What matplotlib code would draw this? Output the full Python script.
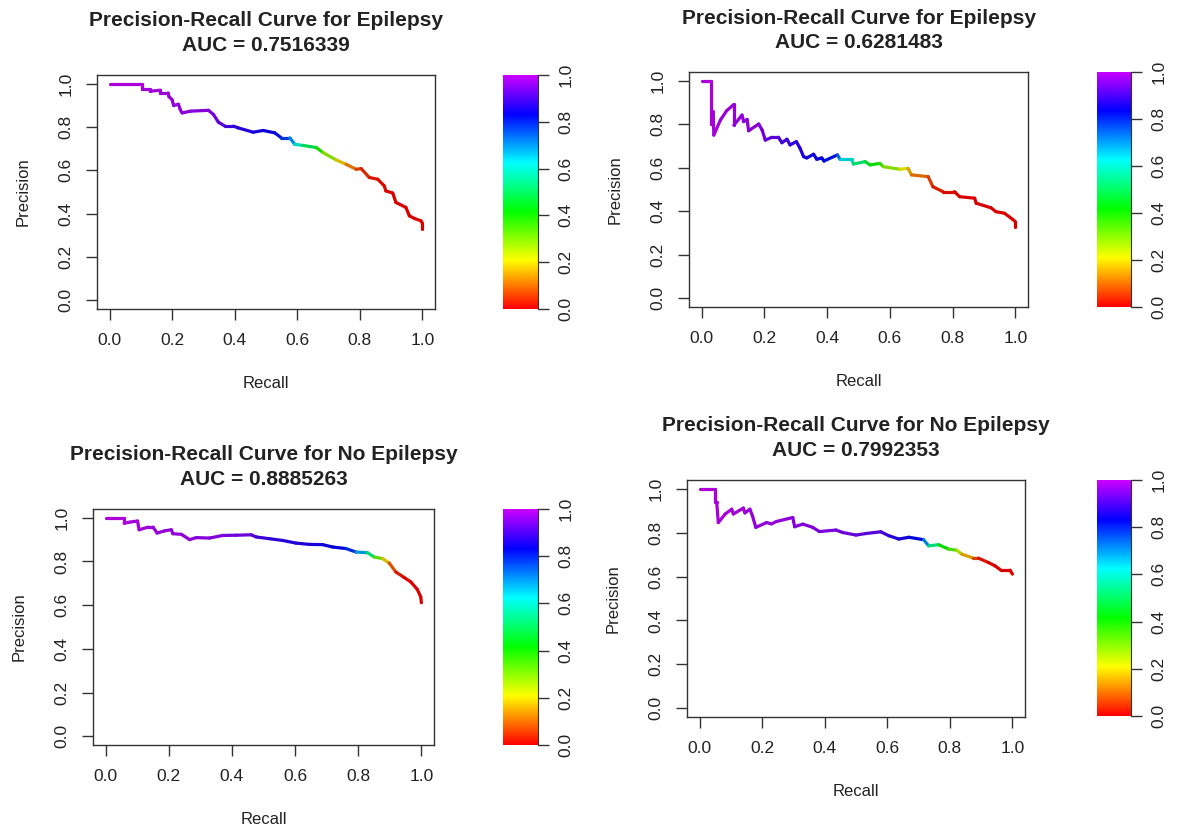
import numpy as np
import matplotlib
matplotlib.use('Agg')
import matplotlib.pyplot as plt
from matplotlib.collections import LineCollection
from matplotlib.colors import ListedColormap, hsv_to_rgb

plt.rcParams['font.family'] = ['Liberation Sans', 'DejaVu Sans']

# --- Epilepsy, model A ---
tl_recall = [0.0, 0.104, 0.104, 0.13, 0.13, 0.162, 0.162, 0.187, 0.19, 0.2,
             0.205, 0.22, 0.226, 0.232, 0.258, 0.316, 0.332, 0.348, 0.369, 0.396,
             0.411, 0.459, 0.491, 0.528, 0.549, 0.576, 0.592, 0.618, 0.661, 0.682,
             0.724, 0.756, 0.788, 0.804, 0.830, 0.857, 0.878, 0.883, 0.905, 0.915,
             0.947, 0.958, 0.974, 0.995, 1.0, 1.0]
tl_precision = [1.0, 1.0, 0.977, 0.977, 0.965, 0.97, 0.957, 0.957, 0.94, 0.926,
                0.899, 0.905, 0.88, 0.865, 0.873, 0.877, 0.858, 0.822, 0.804, 0.804,
                0.796, 0.776, 0.784, 0.773, 0.750, 0.75, 0.720, 0.715, 0.705, 0.682,
                0.648, 0.628, 0.605, 0.608, 0.567, 0.559, 0.528, 0.505, 0.495, 0.452,
                0.429, 0.390, 0.378, 0.367, 0.355, 0.329]
tl_threshold = [1.0, 1.0, 0.99, 0.99, 0.99, 0.98, 0.98, 0.98, 0.98, 0.97,
                0.97, 0.97, 0.97, 0.97, 0.96, 0.96, 0.95, 0.93, 0.9, 0.88,
                0.87, 0.86, 0.85, 0.84, 0.8, 0.76, 0.64, 0.56, 0.42, 0.36,
                0.22, 0.14, 0.08, 0.05, 0.03, 0.02, 0.01, 0.01, 0.0, 0.0,
                0.0, 0.0, 0.0, 0.0, 0.0, 0.0]

# --- Epilepsy, model B ---
tr_recall = [0.0, 0.031, 0.031, 0.035, 0.037, 0.039, 0.060, 0.080, 0.103, 0.103,
             0.129, 0.134, 0.145, 0.150, 0.182, 0.193, 0.203, 0.224, 0.245, 0.256,
             0.272, 0.282, 0.302, 0.314, 0.325, 0.335, 0.357, 0.367, 0.383, 0.390,
             0.433, 0.441, 0.478, 0.484, 0.521, 0.537, 0.568, 0.579, 0.632, 0.658,
             0.669, 0.722, 0.737, 0.769, 0.806, 0.822, 0.870, 0.875, 0.922, 0.938,
             0.965, 0.991, 1.0, 1.0]
tr_precision = [1.0, 1.0, 0.80, 0.80, 0.858, 0.750, 0.819, 0.862, 0.891, 0.796,
                0.842, 0.812, 0.822, 0.770, 0.801, 0.773, 0.727, 0.740, 0.74, 0.715,
                0.731, 0.705, 0.720, 0.689, 0.651, 0.645, 0.662, 0.639, 0.645, 0.631,
                0.659, 0.639, 0.639, 0.617, 0.628, 0.613, 0.62, 0.605, 0.593, 0.597,
                0.567, 0.559, 0.513, 0.490, 0.49, 0.467, 0.46, 0.437, 0.416, 0.398,
                0.391, 0.363, 0.352, 0.329]
tr_threshold = [1.0, 1.0, 1.0, 1.0, 0.99, 0.99, 0.98, 0.98, 0.98, 0.97,
                0.97, 0.97, 0.97, 0.96, 0.96, 0.95, 0.93, 0.92, 0.91, 0.9,
                0.89, 0.88, 0.87, 0.86, 0.86, 0.85, 0.85, 0.84, 0.84, 0.83,
                0.8, 0.68, 0.6, 0.56, 0.48, 0.44, 0.38, 0.34, 0.24, 0.18,
                0.13, 0.08, 0.04, 0.02, 0.01, 0.0, 0.0, 0.0, 0.0, 0.0,
                0.0, 0.0, 0.0, 0.0]

# --- No Epilepsy, model A ---
bl_recall = [0.0, 0.059, 0.059, 0.077, 0.101, 0.106, 0.135, 0.150, 0.163, 0.187,
             0.208, 0.213, 0.240, 0.266, 0.287, 0.329, 0.371, 0.414, 0.461, 0.477,
             0.519, 0.561, 0.603, 0.645, 0.687, 0.719, 0.761, 0.793, 0.829, 0.851,
             0.877, 0.898, 0.919, 0.945, 0.966, 0.987, 0.998, 1.0]
bl_precision = [1.0, 1.0, 0.975, 0.98, 0.985, 0.945, 0.957, 0.957, 0.930, 0.94,
                0.945, 0.927, 0.924, 0.900, 0.909, 0.907, 0.919, 0.92, 0.922, 0.912,
                0.904, 0.896, 0.884, 0.878, 0.877, 0.866, 0.859, 0.843, 0.840, 0.820,
                0.813, 0.793, 0.752, 0.727, 0.707, 0.672, 0.638, 0.611]
bl_threshold = [1.0, 1.0, 1.0, 0.99, 0.99, 0.99, 0.98, 0.98, 0.98, 0.98,
                0.97, 0.97, 0.97, 0.97, 0.96, 0.96, 0.95, 0.94, 0.93, 0.9,
                0.88, 0.87, 0.86, 0.86, 0.85, 0.84, 0.82, 0.76, 0.62, 0.42,
                0.24, 0.12, 0.04, 0.01, 0.0, 0.0, 0.0, 0.0]

# --- No Epilepsy, model B ---
br_recall = [0.0, 0.048, 0.048, 0.055, 0.060, 0.082, 0.103, 0.108, 0.140, 0.145,
             0.161, 0.169, 0.180, 0.214, 0.230, 0.246, 0.298, 0.304, 0.330, 0.362,
             0.383, 0.436, 0.457, 0.500, 0.531, 0.579, 0.605, 0.637, 0.669, 0.716,
             0.732, 0.764, 0.796, 0.822, 0.838, 0.875, 0.891, 0.923, 0.944, 0.963,
             0.992, 1.0]
br_precision = [1.0, 1.0, 0.938, 0.938, 0.846, 0.885, 0.907, 0.885, 0.912, 0.89,
                0.907, 0.877, 0.824, 0.846, 0.84, 0.851, 0.869, 0.827, 0.839, 0.824,
                0.805, 0.812, 0.801, 0.789, 0.796, 0.804, 0.786, 0.771, 0.779, 0.768,
                0.740, 0.745, 0.725, 0.72, 0.702, 0.684, 0.684, 0.664, 0.649, 0.629,
                0.629, 0.611]
br_threshold = [1.0, 1.0, 1.0, 1.0, 0.99, 0.99, 0.99, 0.99, 0.98, 0.98,
                0.98, 0.98, 0.97, 0.97, 0.97, 0.97, 0.96, 0.96, 0.96, 0.95,
                0.95, 0.95, 0.94, 0.93, 0.92, 0.91, 0.88, 0.86, 0.85, 0.8,
                0.62, 0.46, 0.38, 0.3, 0.2, 0.1, 0.03, 0.01, 0.0, 0.0,
                0.0, 0.0]

titles = ['Precision-Recall Curve for Epilepsy', 'Precision-Recall Curve for Epilepsy',
          'Precision-Recall Curve for No Epilepsy', 'Precision-Recall Curve for No Epilepsy']
aucs = ['0.7516339', '0.6281483', '0.8885263', '0.7992353']

W, H = 1177, 832
fig = plt.figure(figsize=(W / 100, H / 100), dpi=100)


def rect(l, t, r, b):
    return [l / W, 1 - b / H, (r - l) / W, (b - t) / H]


# rainbow scale: red (0) through violet (1)
h = np.linspace(0, 1, 256)
rainbow = ListedColormap(hsv_to_rgb(np.column_stack([0.8 * h, np.ones_like(h), np.ones_like(h)])))

ticks = np.linspace(0, 1, 6)
tick_labels = [f'{v:.1f}' for v in ticks]
ink = '#222222'


def draw_panel(box, cbox, title, auc, recall, precision, threshold):
    l, t, r, b = box
    ax = fig.add_axes(rect(*box))
    pts = np.column_stack([recall, precision])
    segs = np.stack([pts[:-1], pts[1:]], axis=1)
    th = np.asarray(threshold)
    cols = rainbow((th[:-1] + th[1:]) / 2)
    cols[:, :3] *= 0.85
    ax.add_collection(LineCollection(segs, colors=cols, linewidths=2.3,
                                     capstyle='round', joinstyle='round'))
    ax.set_xlim(-0.04, 1.04)
    ax.set_ylim(-0.04, 1.04)
    ax.set_xticks(ticks)
    ax.set_xticklabels(tick_labels)
    ax.set_yticks(ticks)
    ax.set_yticklabels(tick_labels, rotation=90, va='center')
    ax.tick_params(length=8, width=1, pad=9, labelsize=12.5, color='#333333', labelcolor=ink)
    for s in ax.spines.values():
        s.set_linewidth(1.0)
        s.set_color('#333333')

    cx = (l + r) / 2
    fig.text(cx / W, 1 - (t - 54) / H, title, ha='center', va='center',
             fontsize=15, fontweight='bold', color=ink)
    fig.text(cx / W, 1 - (t - 29.5) / H, f'AUC = {auc}', ha='center', va='center',
             fontsize=15, fontweight='bold', color=ink)
    fig.text(cx / W, 1 - (b + 75) / H, 'Recall', ha='center', va='center',
             fontsize=12, color=ink)
    fig.text((l - 74) / W, 1 - ((t + b) / 2) / H, 'Precision', rotation=90,
             ha='center', va='center', fontsize=12, color=ink)

    # colour key
    cax = fig.add_axes(rect(*cbox))
    cax.imshow(np.linspace(0, 1, 256)[:, None], aspect='auto', cmap=rainbow,
               origin='lower', extent=[0, 1, 0, 1])
    cax.set_xticks([])
    cax.yaxis.tick_right()
    cax.set_yticks(ticks)
    cax.set_yticklabels(tick_labels, rotation=90, va='center')
    cax.tick_params(length=8, width=1, pad=7, labelsize=12.5, color='#333333', labelcolor=ink)
    for side in ['left', 'top', 'bottom']:
        cax.spines[side].set_visible(False)
    cax.spines['right'].set_color('#333333')
    cax.set_ylim(0, 1)


boxes = [(97, 75, 435, 309), (689, 72, 1028, 307), (93, 509, 434, 745), (687, 480, 1025, 717)]
cboxes = [(503, 75, 538, 309), (1097, 72, 1131, 307), (503, 509, 538, 745), (1097, 480, 1131, 716)]
curves = [(tl_recall, tl_precision, tl_threshold), (tr_recall, tr_precision, tr_threshold),
          (bl_recall, bl_precision, bl_threshold), (br_recall, br_precision, br_threshold)]

for box, cbox, title, auc, (rc, pr, th) in zip(boxes, cboxes, titles, aucs, curves):
    draw_panel(box, cbox, title, auc, rc, pr, th)

fig.savefig('out.png', dpi=100, facecolor='white')
